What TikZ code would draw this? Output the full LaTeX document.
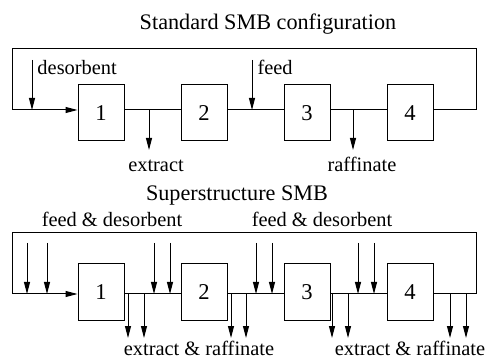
\documentclass[tikz,border=0pt]{standalone}
\usepackage{fontspec}
\setmainfont{Liberation Serif}
\usepackage{tikz}
\usetikzlibrary{positioning,arrows.meta}

\begin{document}
\begin{tikzpicture}[x=0.5pt, y=-0.5pt, line width=0.5pt, node distance=28pt,
    column/.style={draw, minimum width=23pt, minimum height=28pt, inner sep=0pt, font=\fontsize{11.3}{13}\selectfont},
    flow/.style={-{Triangle[length=6pt,width=3pt]}},
    lbl/.style={inner sep=0pt, anchor=base, font=\fontsize{10.2}{12}\selectfont},
    ttl/.style={inner sep=0pt, anchor=base, font=\fontsize{11.1}{13}\selectfont}]
          \useasboundingbox (0,0) rectangle (488,358);

          % standard configuration
          \node[ttl] (t1) at (268,29.5) {Standard SMB configuration};
          \node[column] (c1) at (101,113) {1};
          \node[column, right = of c1] (c2) {2};
          \node[column, right = of c2] (c3) {3};
          \node[column, right = of c3] (c4) {4};

          \coordinate (lvA) at (0,110);
          \coordinate (tlA) at (12,49);
          \coordinate (trA) at (476,49);
          \draw [flow] (c4.east |- lvA) -| (trA) -- (tlA) |- (c1.west |- lvA);
          \draw [-] (c1.east |- lvA) -- (c2.west |- lvA);
          \draw [-] (c2.east |- lvA) -- (c3.west |- lvA);
          \draw [-] (c3.east |- lvA) -- (c4.west |- lvA);

          \coordinate (des) at (32,60);
          \coordinate (fd) at (252,60);
          \coordinate (ext) at (149,150);
          \coordinate (raf) at (353,150);
          \draw [flow] (des) -- (des |- lvA);
          \draw [flow] (fd) -- (fd |- lvA);
          \draw [flow] (ext |- lvA) -- (ext);
          \draw [flow] (raf |- lvA) -- (raf);
          \node[lbl, anchor=base west] (ldes) at (37,75) {desorbent};
          \node[lbl, anchor=base west] (lfd) at (257,75) {feed};
          \node[lbl] (lext) at (156,171.5) {extract};
          \node[lbl] (lraf) at (362,171.5) {raffinate};

          % superstructure
          \node[ttl] (t2) at (237,201) {Superstructure SMB};
          \node[column, below = 61pt of c1] (s1) {1};
          \node[column, right = of s1] (s2) {2};
          \node[column, right = of s2] (s3) {3};
          \node[column, right = of s3] (s4) {4};

          \coordinate (lvB) at (0,294);
          \coordinate (tlB) at (12,233);
          \coordinate (trB) at (476,233);
          \draw [flow] (s4.east |- lvB) -| (trB) -- (tlB) |- (s1.west |- lvB);
          \draw [-] (s1.east |- lvB) -- (s2.west |- lvB);
          \draw [-] (s2.east |- lvB) -- (s3.west |- lvB);
          \draw [-] (s3.east |- lvB) -- (s4.west |- lvB);

          \coordinate (i1) at (27,243);
          \coordinate (i2) at (47,243);
          \coordinate (i3) at (154,243);
          \coordinate (i4) at (170,243);
          \coordinate (i5) at (256,243);
          \coordinate (i6) at (272,243);
          \coordinate (i7) at (358,243);
          \coordinate (i8) at (374,243);
          \draw [flow] (i1) -- (i1 |- lvB);
          \draw [flow] (i2) -- (i2 |- lvB);
          \draw [flow] (i3) -- (i3 |- lvB);
          \draw [flow] (i4) -- (i4 |- lvB);
          \draw [flow] (i5) -- (i5 |- lvB);
          \draw [flow] (i6) -- (i6 |- lvB);
          \draw [flow] (i7) -- (i7 |- lvB);
          \draw [flow] (i8) -- (i8 |- lvB);

          \coordinate (o1) at (128,338);
          \coordinate (o2) at (144,338);
          \coordinate (o3) at (231,338);
          \coordinate (o4) at (246,338);
          \coordinate (o5) at (332,338);
          \coordinate (o6) at (348,338);
          \coordinate (o7) at (450,338);
          \coordinate (o8) at (466,338);
          \draw [flow] (o1 |- lvB) -- (o1);
          \draw [flow] (o2 |- lvB) -- (o2);
          \draw [flow] (o3 |- lvB) -- (o3);
          \draw [flow] (o4 |- lvB) -- (o4);
          \draw [flow] (o5 |- lvB) -- (o5);
          \draw [flow] (o6 |- lvB) -- (o6);
          \draw [flow] (o7 |- lvB) -- (o7);
          \draw [flow] (o8 |- lvB) -- (o8);

          \node[lbl] (lin1) at (112,227) {feed \& desorbent};
          \node[lbl] (lin2) at (322,227) {feed \& desorbent};
          \node[lbl] (lout1) at (199,355.5) {extract \& raffinate};
          \node[lbl] (lout2) at (410,355.5) {extract \& raffinate};
        \end{tikzpicture}
\end{document}
